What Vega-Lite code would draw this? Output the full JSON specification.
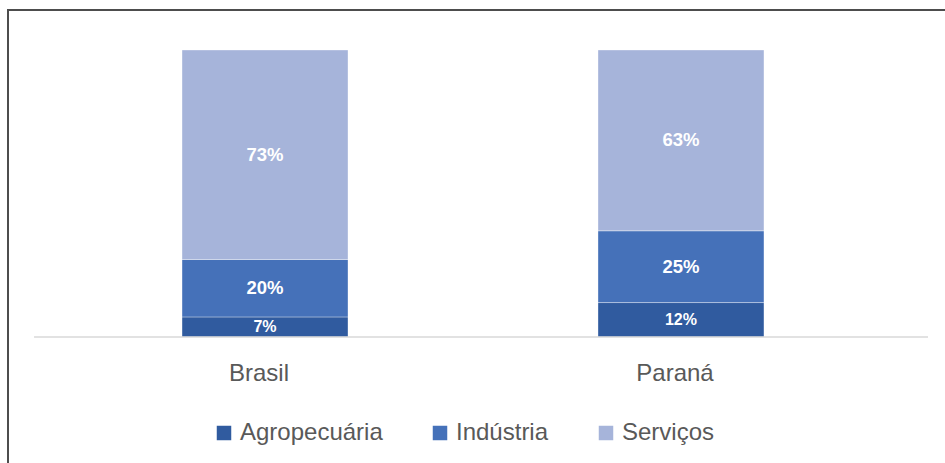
{
  "$schema": "https://vega.github.io/schema/vega-lite/v6.json",
  "width": 953,
  "height": 470,
  "padding": {"left": 8, "top": 10, "right": 0, "bottom": 0},
  "config": {
    "font": "Liberation Sans",
    "view": {"stroke": "#4d4d4d", "strokeWidth": 2},
    "legend": {"padding": 0}
  },
  "data": {
    "values": [
      {"regiao": "Brasil", "setor": "Agropecuária", "ordem": 1, "valor": 0.07},
      {"regiao": "Brasil", "setor": "Indústria", "ordem": 2, "valor": 0.20},
      {"regiao": "Brasil", "setor": "Serviços", "ordem": 3, "valor": 0.73},
      {"regiao": "Paraná", "setor": "Agropecuária", "ordem": 1, "valor": 0.12},
      {"regiao": "Paraná", "setor": "Indústria", "ordem": 2, "valor": 0.25},
      {"regiao": "Paraná", "setor": "Serviços", "ordem": 3, "valor": 0.63}
    ]
  },
  "transform": [
    {"stack": "valor", "groupby": ["regiao"], "sort": [{"field": "ordem", "order": "ascending"}], "as": ["v0", "v1"]},
    {"calculate": "(datum.v0 + datum.v1) / 2", "as": "meio"}
  ],
  "layer": [
    {
      "layer": [
        {
          "mark": {"type": "bar", "stroke": "#ffffff", "strokeOpacity": 0.35, "strokeWidth": 1},
          "encoding": {
            "x": {"field": "regiao", "type": "nominal", "axis": null,
                  "scale": {"paddingInner": 0.601, "paddingOuter": 0.446, "align": 0.469}},
            "y": {"field": "v0", "type": "quantitative", "axis": null,
                  "scale": {"domain": [-0.49826, 1.13937], "nice": false, "zero": false}},
            "y2": {"field": "v1"},
            "color": {"field": "setor", "type": "nominal",
                      "scale": {"domain": ["Agropecuária", "Indústria", "Serviços"], "range": ["#305B9F", "#4571B9", "#A6B4DA"]},
                      "legend": {"title": null, "orient": "none", "direction": "horizontal", "legendX": 204, "legendY": 411,
                                 "symbolType": "square", "symbolSize": 210, "symbolStrokeWidth": 0, "symbolOpacity": 1,
                                 "labelFontSize": 24, "labelColor": "#595959", "labelFont": "Liberation Sans",
                                 "labelOffset": 4, "columnPadding": 45, "gridAlign": "none", "labelLimit": 300}}
          }
        },
        {
          "mark": {"type": "text", "color": "#ffffff", "fontWeight": "bold", "baseline": "middle"},
          "encoding": {
            "x": {"field": "regiao", "type": "nominal"},
            "y": {"field": "meio", "type": "quantitative"},
            "text": {"field": "valor", "type": "quantitative", "format": ".0%"},
            "size": {"condition": {"test": "datum.valor < 0.15", "value": 16}, "value": 18.5}
          }
        },
        {
          "mark": {"type": "text", "color": "#595959", "fontSize": 24, "baseline": "alphabetic", "dx": -6},
          "encoding": {
            "x": {"field": "regiao", "type": "nominal"},
            "y": {"datum": -0.1533},
            "text": {"field": "regiao", "type": "nominal"}
          },
          "transform": [{"filter": "datum.setor == 'Serviços'"}]
        }
      ]
    },
    {
      "mark": {"type": "rule", "color": "#d9d9d9", "strokeWidth": 1.5},
      "encoding": {
        "x": {"datum": 0.0273, "type": "quantitative", "axis": null, "scale": {"domain": [0, 1], "nice": false, "zero": false}},
        "x2": {"datum": 0.9654},
        "y": {"datum": 0, "type": "quantitative"}
      },
      "transform": [{"filter": "datum.setor == 'Serviços' && datum.regiao == 'Brasil'"}]
    }
  ],
  "resolve": {"scale": {"x": "independent"}}
}
